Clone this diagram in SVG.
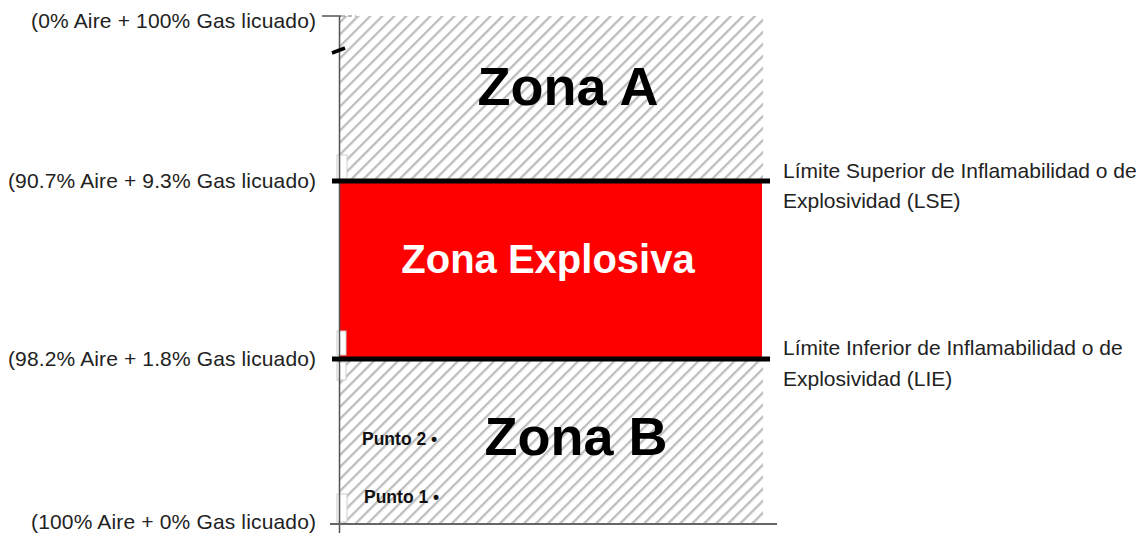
<svg xmlns="http://www.w3.org/2000/svg" width="1146" height="533" viewBox="0 0 1146 533">
<style>
.lbl{font-family:"Liberation Sans",Arial,sans-serif;font-size:21px;fill:#222}
.zona{font-family:"Liberation Sans",Arial,sans-serif;font-weight:bold;fill:#000}
.pt{font-family:"Liberation Sans",Arial,sans-serif;font-weight:bold;font-size:17.5px;fill:#111}
.limit{stroke:#000;stroke-width:5}
.ghost{fill:#fff;stroke:#ccc;stroke-width:1}
</style>
<defs>
<pattern id="hatch" width="8.5" height="8.5" patternUnits="userSpaceOnUse" patternTransform="rotate(45)">
<rect width="8.5" height="8.5" fill="#fff"/>
<line x1="0" y1="0" x2="0" y2="8.5" stroke="#bdbdbd" stroke-width="4.6"/>
</pattern>
</defs>
<g id="zona-a">
<rect x="340" y="16" width="423" height="165" fill="url(#hatch)"/>
<text class="zona" x="568" y="105" font-size="54" text-anchor="middle">Zona A</text>
</g>
<g id="zona-b">
<rect x="340" y="358" width="423" height="166" fill="url(#hatch)"/>
<text class="zona" x="576" y="455" font-size="54" text-anchor="middle">Zona B</text>
<text class="pt" x="362" y="445">Punto 2 •</text>
<text class="pt" x="364" y="503">Punto 1 •</text>
</g>
<g id="zona-explosiva">
<rect x="340" y="181" width="422" height="177" fill="#ff0000"/>
<text class="zona" x="548" y="273" font-size="40" style="fill:#fff" text-anchor="middle">Zona Explosiva</text>
</g>
<g id="ghost-boxes">
<rect class="ghost" x="337" y="155" width="10" height="24"/>
<rect class="ghost" x="337" y="331" width="9" height="24"/>
<rect class="ghost" x="337" y="362" width="9" height="18"/>
<rect class="ghost" x="337" y="494" width="10" height="28" stroke="none"/>
</g>
<g id="connectors">
<line x1="339.5" y1="16" x2="339.5" y2="533" stroke="#555" stroke-width="1.5"/>
<line x1="322" y1="16" x2="341" y2="16" stroke="#555" stroke-width="1.5"/>
<line x1="341" y1="16" x2="356" y2="16" stroke="#777" stroke-width="1.2" stroke-dasharray="4 3"/>
<line x1="332" y1="53" x2="345" y2="48" stroke="#000" stroke-width="3.5"/>
<line class="limit" x1="332" y1="181" x2="770" y2="181"/>
<line class="limit" x1="332" y1="359" x2="770" y2="359"/>
<line x1="330" y1="524" x2="777" y2="524" stroke="#666" stroke-width="2"/>
</g>
<g id="labels-left">
<text class="lbl" x="316" y="28" text-anchor="end" textLength="285">(0% Aire + 100% Gas licuado)</text>
<text class="lbl" x="316" y="188" text-anchor="end" textLength="308">(90.7% Aire + 9.3% Gas licuado)</text>
<text class="lbl" x="316" y="366" text-anchor="end" textLength="308">(98.2% Aire + 1.8% Gas licuado)</text>
<text class="lbl" x="316" y="529" text-anchor="end" textLength="285">(100% Aire + 0% Gas licuado)</text>
</g>
<g id="labels-right">
<text class="lbl" x="783" y="178">Límite Superior de Inflamabilidad o de</text>
<text class="lbl" x="783" y="208">Explosividad (LSE)</text>
<text class="lbl" x="783" y="355">Límite Inferior de Inflamabilidad o de</text>
<text class="lbl" x="783" y="386">Explosividad (LIE)</text>
</g>
</svg>
